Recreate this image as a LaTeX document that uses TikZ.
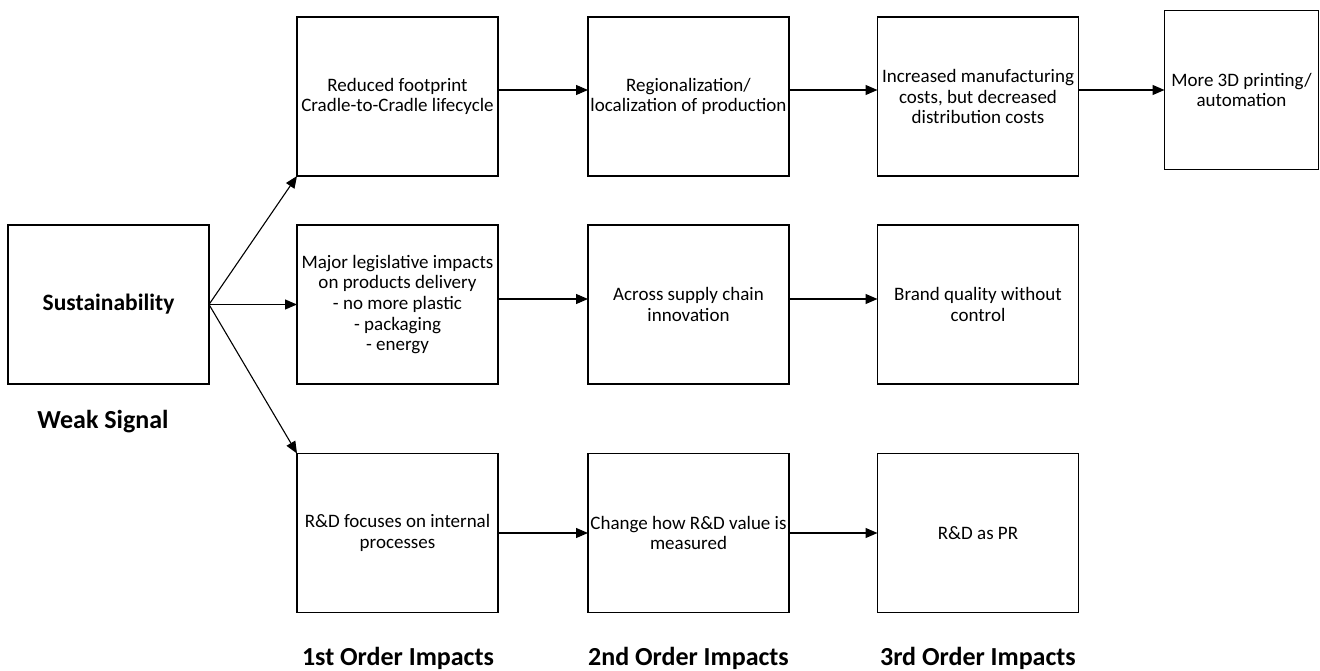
\documentclass[tikz,border=0pt]{standalone}
\usepackage{fontspec}
\setmainfont{Carlito}
\usetikzlibrary{arrows.meta}
\begin{document}
\begin{tikzpicture}[x=1pt,y=-1pt,
  box/.style={draw, line width=1.1pt, inner sep=0pt, outer sep=0pt,
    minimum width=#1, minimum height=159pt, align=center,
    font=\fontsize{19}{20.7}\selectfont},
  box/.default=201pt,
  heading/.style={font=\fontsize{26}{28}\selectfont\bfseries},
  link/.style={line width=1.1pt, -{Triangle[length=12pt,width=10pt]}}]
\useasboundingbox (0,0) rectangle (1320,671);

% weak signal
\node[box, font=\fontsize{23.5}{26}\selectfont\bfseries] (sus) at (108.5,304.5) {Sustainability};
\node[heading] (ws) at (103,422) {Weak Signal};

% first order
\node[box] (a1) at (397.5,96.5) {Reduced footprint\\Cradle-to-Cradle lifecycle};
\node[box] (a2) at (397.5,304.5) {Major legislative impacts\\on products delivery\\- no more plastic\\- packaging\\- energy};
\node[box] (a3) at (397.5,533) {R\&D focuses on internal\\processes};

% second order
\node[box] (b1) at (688.5,96.5) {Regionalization/\\localization of production};
\node[box] (b2) at (688.5,304.5) {Across supply chain\\innovation};
\node[box] (b3) at (688.5,533) {Change how R\&D value is\\measured};

% third order
\node[box] (c1) at (978,96.5) {Increased manufacturing\\costs, but decreased\\distribution costs};
\node[box] (c2) at (978,304.5) {Brand quality without\\control};
\node[box] (c3) at (978,533) {R\&D as PR};

% fourth step
\node[box=154pt] (d1) at (1241.5,90) {More 3D printing/\\automation};

% column headings
\node[heading] (h1) at (398,658) {1st Order Impacts};
\node[heading] (h2) at (688.5,658) {2nd Order Impacts};
\node[heading] (h3) at (978,658) {3rd Order Impacts};

% connectors
\draw[link] (sus.east) -- (a1.south west);
\draw[link] (sus.east) -- (a2.west);
\draw[link] (sus.east) -- (a3.north west);

\draw[link] ([yshift=6.5pt]a1.east) -- ([yshift=6.5pt]b1.west);
\draw[link] ([yshift=6.5pt]b1.east) -- ([yshift=6.5pt]c1.west);
\draw[link] ([yshift=6.5pt]c1.east) -- (d1.west);

\draw[link] ([yshift=5.5pt]a2.east) -- ([yshift=5.5pt]b2.west);
\draw[link] ([yshift=5.5pt]b2.east) -- ([yshift=5.5pt]c2.west);

\draw[link] (a3.east) -- (b3.west);
\draw[link] (b3.east) -- (c3.west);
\end{tikzpicture}
\end{document}
